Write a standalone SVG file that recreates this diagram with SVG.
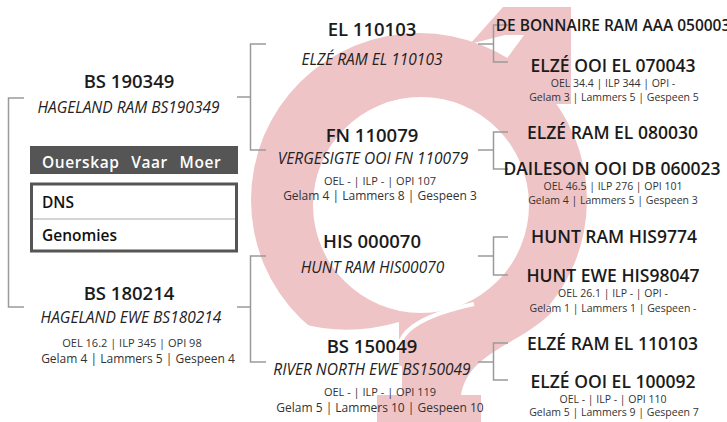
<svg xmlns="http://www.w3.org/2000/svg" width="727" height="422" viewBox="0 0 727 422">
<style>
text{font-family:"Open Sans","Noto Sans",sans-serif;text-anchor:middle;fill:#1b1b1b}
.t1{font-size:18.5px;font-weight:600}
.t2{font-size:17.5px;font-weight:600}
.t3{font-size:15.5px;font-weight:600}
.it{font-size:15.5px;font-style:italic;fill:#222}
.s1{font-size:11px;fill:#333}
.s2{font-size:12px;fill:#333}
.r1{font-size:10.5px;fill:#333}
.r2{font-size:10.5px;fill:#333}
.pk{fill:#efc4c6}
.ln{fill:none;stroke:#9a9a9a;stroke-width:1.5}
.hd{font-size:15.5px;font-weight:600;fill:#fff;text-anchor:start;letter-spacing:0.6px;word-spacing:7px}
.rw{font-size:15.5px;font-weight:600;fill:#111;text-anchor:start}
</style>
<rect width="727" height="422" fill="#fff"/>
<g id="symbol">
<path class="pk" fill-rule="evenodd" d="M251 200a168 167 0 1 0 336 0a168 167 0 1 0 -336 0ZM313 205a108 108 0 1 0 216 0a108 108 0 1 0 -216 0Z"/>
<path d="M250 300Q320 345 399 322V422H250Z" fill="#fff"/>
<polygon class="pk" points="470,44 503,7 571,7 571,104 531,104 531,35 505,35"/>
<line x1="500" y1="100" x2="555" y2="25" stroke="#efc4c6" stroke-width="38"/>
<path class="pk" d="M552 312C520 345 468 352 461 395H481V422H377V395H402V345C402 330 430 316 472 306Z"/>
<path d="M399 350C399 328 428 314 474 304" fill="none" stroke="#fff" stroke-width="4"/>
</g>
<g id="connectors">
<path class="ln" d="M24 98H8.5V307H24"/>
<path class="ln" d="M237 97H250.5M266 44H250.5V150H266"/>
<path class="ln" d="M237 307H250.5M266 256H250.5V362H266"/>
<path class="ln" d="M478 44H493.5M508 25H493.5V62H508"/>
<path class="ln" d="M478 150H493.5M508 132H493.5V169H508"/>
<path class="ln" d="M478 256H493.5M508 237H493.5V275H508"/>
<path class="ln" d="M478 362H493.5M508 343H493.5V380H508"/>
</g>
<g id="legend">
<rect x="30" y="146" width="208" height="28" fill="#555"/>
<text class="hd" x="42" y="168">Ouerskap Vaar Moer</text>
<rect x="31.5" y="184" width="205" height="67" fill="#fff" stroke="#555" stroke-width="3"/>
<line x1="33" y1="219" x2="235" y2="219" stroke="#aaa" stroke-width="1"/>
<text class="rw" x="42" y="208">DNS</text>
<text class="rw" x="42" y="241">Genomies</text>
</g>
<g id="sire">
<text class="t1" x="129" y="88">BS 190349</text>
<text class="it" x="128.5" y="113">HAGELAND RAM BS190349</text>
</g>
<g id="dam">
<text class="t1" x="129" y="300">BS 180214</text>
<text class="it" x="131" y="323">HAGELAND EWE BS180214</text>
<text class="s1" x="132" y="347">OEL 16.2 | ILP 345 | OPI 98</text>
<text class="s2" x="138" y="363">Gelam 4 | Lammers 5 | Gespeen 4</text>
</g>
<g id="ss">
<text class="t1" x="372" y="36">EL 110103</text>
<text class="it" x="372" y="65">ELZÉ RAM EL 110103</text>
</g>
<g id="sd">
<text class="t1" x="372" y="142">FN 110079</text>
<text class="it" x="373" y="164">VERGESIGTE OOI FN 110079</text>
<text class="s1" x="380" y="185">OEL - | ILP - | OPI 107</text>
<text class="s2" x="380" y="200">Gelam 4 | Lammers 8 | Gespeen 3</text>
</g>
<g id="ds">
<text class="t1" x="372" y="248">HIS 000070</text>
<text class="it" x="372.5" y="273">HUNT RAM HIS00070</text>
</g>
<g id="dd">
<text class="t1" x="372" y="353">BS 150049</text>
<text class="it" x="372" y="375">RIVER NORTH EWE BS150049</text>
<text class="s1" x="380" y="396">OEL - | ILP - | OPI 119</text>
<text class="s2" x="380" y="412">Gelam 5 | Lammers 10 | Gespeen 10</text>
</g>
<g id="sss">
<text class="t3" x="613" y="31">DE BONNAIRE RAM AAA 050003</text>
</g>
<g id="ssd">
<text class="t2" x="613" y="72">ELZÉ OOI EL 070043</text>
<text class="r1" x="613" y="87">OEL 34.4 | ILP 344 | OPI -</text>
<text class="r2" x="614" y="101">Gelam 3 | Lammers 5 | Gespeen 5</text>
</g>
<g id="sds">
<text class="t2" x="612.5" y="139">ELZÉ RAM EL 080030</text>
</g>
<g id="sdd">
<text class="t2" x="612" y="175">DAILESON OOI DB 060023</text>
<text class="r1" x="613" y="190">OEL 46.5 | ILP 276 | OPI 101</text>
<text class="r2" x="613" y="204">Gelam 4 | Lammers 5 | Gespeen 3</text>
</g>
<g id="dss">
<text class="t2" x="614" y="243">HUNT RAM HIS9774</text>
</g>
<g id="dsd">
<text class="t2" x="613" y="282">HUNT EWE HIS98047</text>
<text class="r1" x="613" y="297">OEL 26.1 | ILP - | OPI -</text>
<text class="r2" x="613" y="312">Gelam 1 | Lammers 1 | Gespeen -</text>
</g>
<g id="dds">
<text class="t2" x="612.5" y="350">ELZÉ RAM EL 110103</text>
</g>
<g id="ddd">
<text class="t2" x="613" y="388">ELZÉ OOI EL 100092</text>
<text class="r1" x="613" y="403">OEL - | ILP - | OPI 110</text>
<text class="r2" x="614" y="416">Gelam 5 | Lammers 9 | Gespeen 7</text>
</g>
</svg>
